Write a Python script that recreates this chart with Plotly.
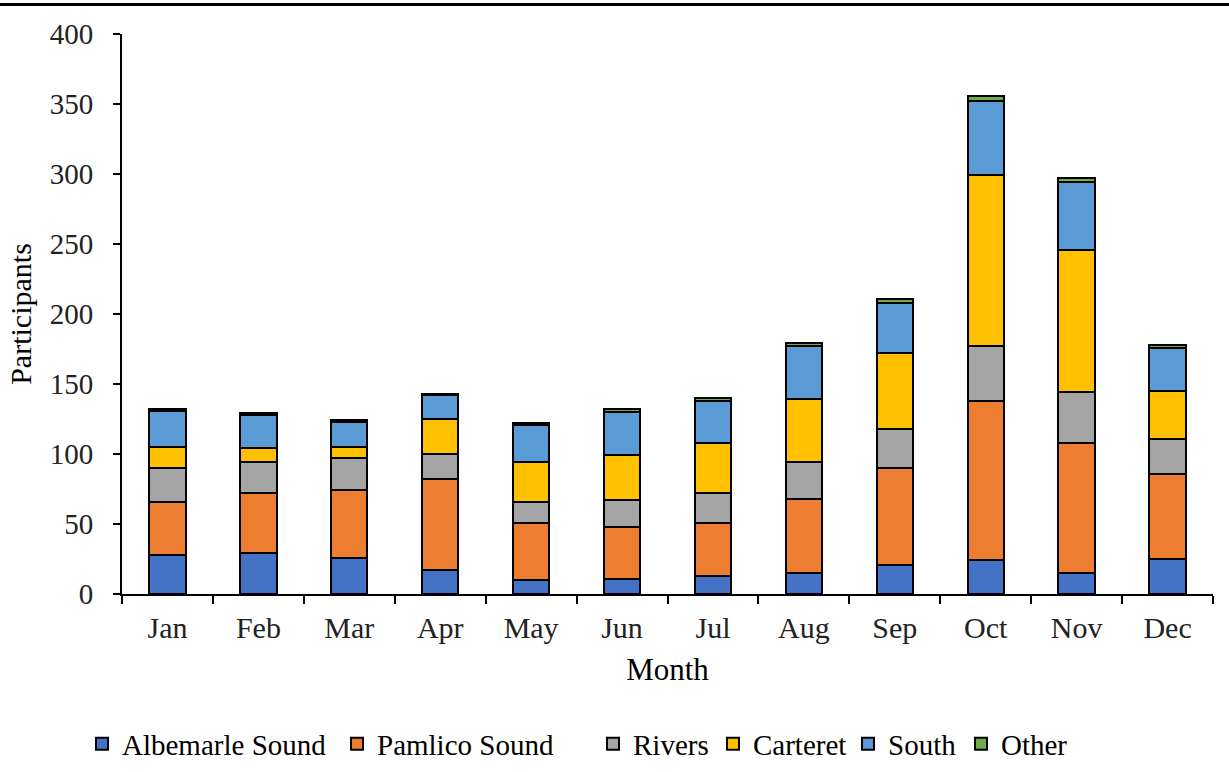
import plotly.graph_objects as go

months = ["Jan", "Feb", "Mar", "Apr", "May", "Jun", "Jul", "Aug", "Sep", "Oct", "Nov", "Dec"]
albemarle = [28, 29, 26, 17, 10, 11, 13, 15, 21, 24, 15, 25]
pamlico   = [38, 43, 48, 65, 41, 37, 38, 53, 69, 114, 93, 61]
rivers    = [24, 22, 23, 18, 15, 19, 21, 26, 28, 39, 36, 25]
carteret  = [15, 10, 8, 25, 28, 32, 36, 45, 54, 122, 102, 34]
south     = [26, 24, 18, 17, 27, 31, 30, 38, 36, 53, 48, 31]
other     = [1, 1, 1, 1, 1, 2, 2, 2, 3, 4, 3, 2]

series_names = ["Albemarle Sound", "Pamlico Sound", "Rivers", "Carteret", "South", "Other"]
series_values = [albemarle, pamlico, rivers, carteret, south, other]
series_colors = ["#4472C4", "#ED7D31", "#A5A5A5", "#FFC000", "#5B9BD5", "#70AD47"]
# left edge (px) of each legend entry, one legend box per entry
legend_left_px = [82, 337, 593, 713, 848, 961]

FONT = "Liberation Serif"
W, H = 1229, 772

fig = go.Figure()
legend_layouts = {}
for i, (name, vals, col) in enumerate(zip(series_names, series_values, series_colors)):
    lg = "legend" if i == 0 else f"legend{i + 1}"
    fig.add_trace(go.Bar(
        x=months, y=vals, name=name,
        marker=dict(color=col, line=dict(color="black", width=2)),
        width=0.4, legend=lg,
    ))
    legend_layouts[lg] = dict(
        orientation="h", xref="container", yref="container",
        x=legend_left_px[i] / W, xanchor="left", y=1 - 744 / H, yanchor="middle",
        font=dict(family=FONT, size=29, color="black"),
        bgcolor="rgba(0,0,0,0)", itemwidth=30,
    )

fig.update_layout(
    barmode="stack",
    width=W, height=H,
    margin=dict(l=122, r=16, t=34, b=178, autoexpand=False),
    paper_bgcolor="white", plot_bgcolor="white",
    font=dict(family=FONT, size=29, color="black"),
    showlegend=True,
    xaxis=dict(
        title=dict(text="Month", font=dict(family=FONT, size=31, color="black"), standoff=15),
        showline=True, linecolor="black", linewidth=2,
        ticks="outside", ticklen=8, tickwidth=2, tickcolor="black",
        tickson="boundaries", showgrid=False, automargin=False,
        tickfont=dict(family=FONT, size=30, color="#222"),
        ticklabelstandoff=6,
        range=[-0.5, 11.5],
    ),
    yaxis=dict(
        title=dict(text="Participants", font=dict(family=FONT, size=30, color="black"), standoff=9),
        range=[0, 400], dtick=50,
        showline=True, linecolor="black", linewidth=2,
        ticks="outside", ticklen=7, tickwidth=2, tickcolor="black",
        showgrid=False, zeroline=False, automargin=False,
        tickfont=dict(family=FONT, size=29, color="#222"),
        ticklabelstandoff=14,
    ),
    shapes=[dict(type="line", xref="paper", yref="paper",
                 x0=-0.2, x1=1.1, y0=1.0527, y1=1.0527,
                 line=dict(color="black", width=3))],
    **legend_layouts,
)

fig.write_html("out.html", config={"displayModeBar": False},
               post_script="document.body.style.margin='0';")
